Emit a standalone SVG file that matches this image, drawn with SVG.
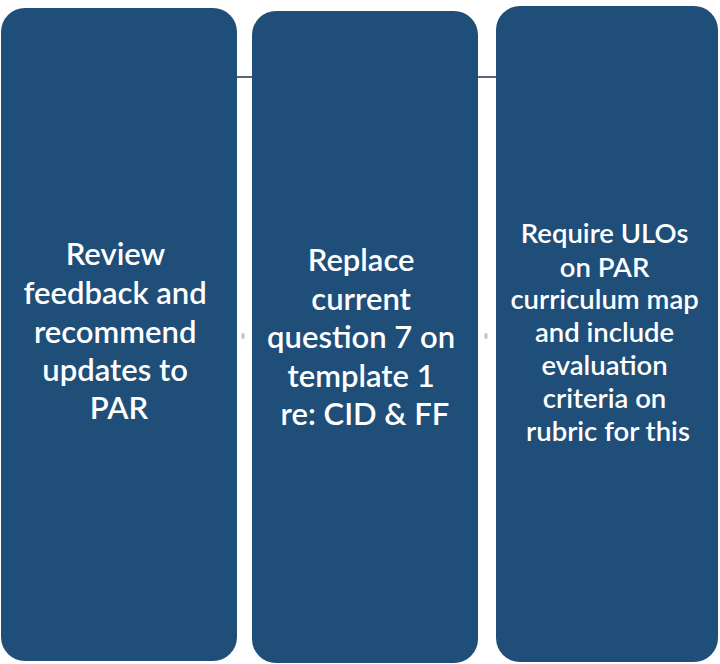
<svg xmlns="http://www.w3.org/2000/svg" width="720" height="664" viewBox="0 0 720 664">
  <style>
    .box { fill: #1f4e79; }
    .lbl { fill: #ffffff; font-family: Lato, "Open Sans", "Liberation Sans", sans-serif; font-weight: 600; text-anchor: middle; }
    .big { font-size: 31px; }
    .small { font-size: 27.5px; }
    .link { stroke: #5b6670; stroke-width: 2; fill: none; }
    .dot { fill: #c9c3cb; }
  </style>
  <rect width="720" height="664" fill="#ffffff"/>

  <!-- connectors between the process steps -->
  <g id="connectors">
    <line class="link" x1="236" y1="77" x2="253" y2="77"/>
    <line class="link" x1="477" y1="77" x2="497" y2="77"/>
    <ellipse class="dot" cx="243" cy="336" rx="1.6" ry="3.2"/>
    <ellipse class="dot" cx="486" cy="336" rx="1.6" ry="3.2"/>
  </g>

  <g id="step1">
    <rect class="box" x="1" y="8" width="236" height="653" rx="24"/>
    <text class="lbl big" x="119">
      <tspan x="119" y="265">Review</tspan>
      <tspan x="119" y="304">feedback and</tspan>
      <tspan x="119" y="343">recommend</tspan>
      <tspan x="119" y="381">updates to</tspan>
      <tspan x="119" y="419">PAR</tspan>
    </text>
  </g>

  <g id="step2">
    <rect class="box" x="252" y="11" width="226" height="652" rx="24"/>
    <text class="lbl big" x="365">
      <tspan x="365" y="271">Replace</tspan>
      <tspan x="365" y="310">current</tspan>
      <tspan x="365" y="348">question 7 on</tspan>
      <tspan x="365" y="387">template 1</tspan>
      <tspan x="365" y="425">re: CID &amp; FF</tspan>
    </text>
  </g>

  <g id="step3">
    <rect class="box" x="496" y="6" width="222" height="656" rx="24"/>
    <text class="lbl small" x="608">
      <tspan x="608" y="243">Require ULOs</tspan>
      <tspan x="608" y="277">on PAR</tspan>
      <tspan x="608" y="309">curriculum map</tspan>
      <tspan x="608" y="342">and include</tspan>
      <tspan x="608" y="375">evaluation</tspan>
      <tspan x="608" y="408">criteria on</tspan>
      <tspan x="608" y="441">rubric for this</tspan>
    </text>
  </g>
</svg>
